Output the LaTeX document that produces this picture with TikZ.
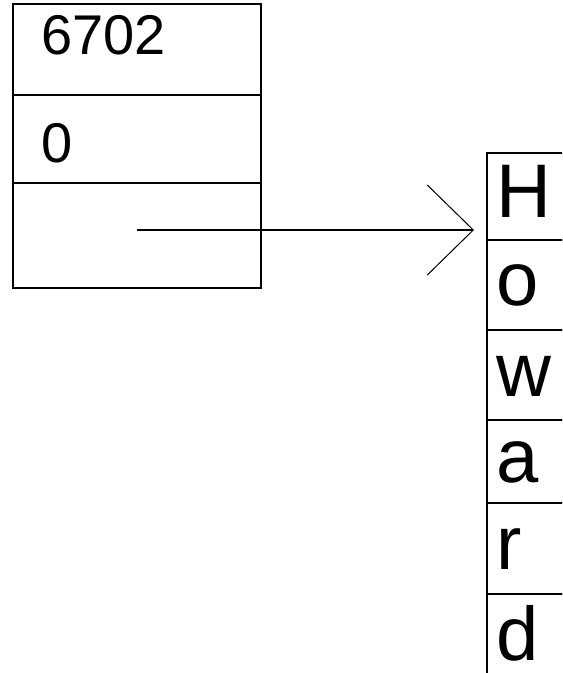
\documentclass[tikz,border=0pt]{standalone}
\usepackage{fontspec}
\setmainfont{Liberation Sans}
\usetikzlibrary{positioning,arrows.meta}
\tikzset{
    cell/.style = {
        draw,
        line width      = 1pt,
        outer sep = 0pt,
        inner sep = 0pt,
        minimum width = 124pt,
    },
    charcell/.style = {
        draw,
        line width      = 1pt,
        outer sep = 0pt,
        inner xsep = 4.5pt,
        inner ysep = 0pt,
        text width = 36pt,
        align = left,
        text height = 27pt,
        text depth = 6pt,
        font = \fontsize{38}{38}\selectfont,
    },
    numtext/.style = {
        inner sep = 0pt,
        anchor = base west,
        font = \fontsize{28}{28}\selectfont,
    }
}

\begin{document}
\begin{tikzpicture}[x=0.5pt,y=-0.5pt]
  \useasboundingbox (0,0) rectangle (562,673);
  \clip (0,0) rectangle (562,673);

  % Record
  \node[cell,minimum height=45.5pt,anchor=north west] (Count) at (13,4) {};
  \node[cell,minimum height=44pt,below=0pt of Count] (Offset) {};
  \node[cell,minimum height=52.5pt,below=0pt of Offset] (Pointer) {};

  \node[numtext] (CountText) at ([xshift=14pt,yshift=-25.5pt]Count.north west) {6702};
  \node[numtext] (OffsetText) at ([xshift=14pt,yshift=-34pt]Offset.north west) {0};

  % Characters
  \node[charcell,minimum height=43.5pt,anchor=north west] (CharH) at (487,153) {H};
  \node[charcell,minimum height=45pt,below=0pt of CharH] (CharO) {o};
  \node[charcell,minimum height=45pt,below=0pt of CharO] (CharW) {w};
  \node[charcell,minimum height=41.5pt,below=0pt of CharW] (CharA) {a};
  \node[charcell,minimum height=45.5pt,below=0pt of CharA] (CharR) {r};
  \node[charcell,minimum height=45pt,below=0pt of CharR] (CharD) {d};

  % Pointer
  \coordinate (PtrStart) at (137,230);
  \coordinate (PtrEnd) at (474,230);
  \draw[line width=1pt,-{Straight Barb[length=23pt,width=45pt,line width=0.5pt]}] (PtrStart) to (PtrEnd);

\end{tikzpicture}
\end{document}
